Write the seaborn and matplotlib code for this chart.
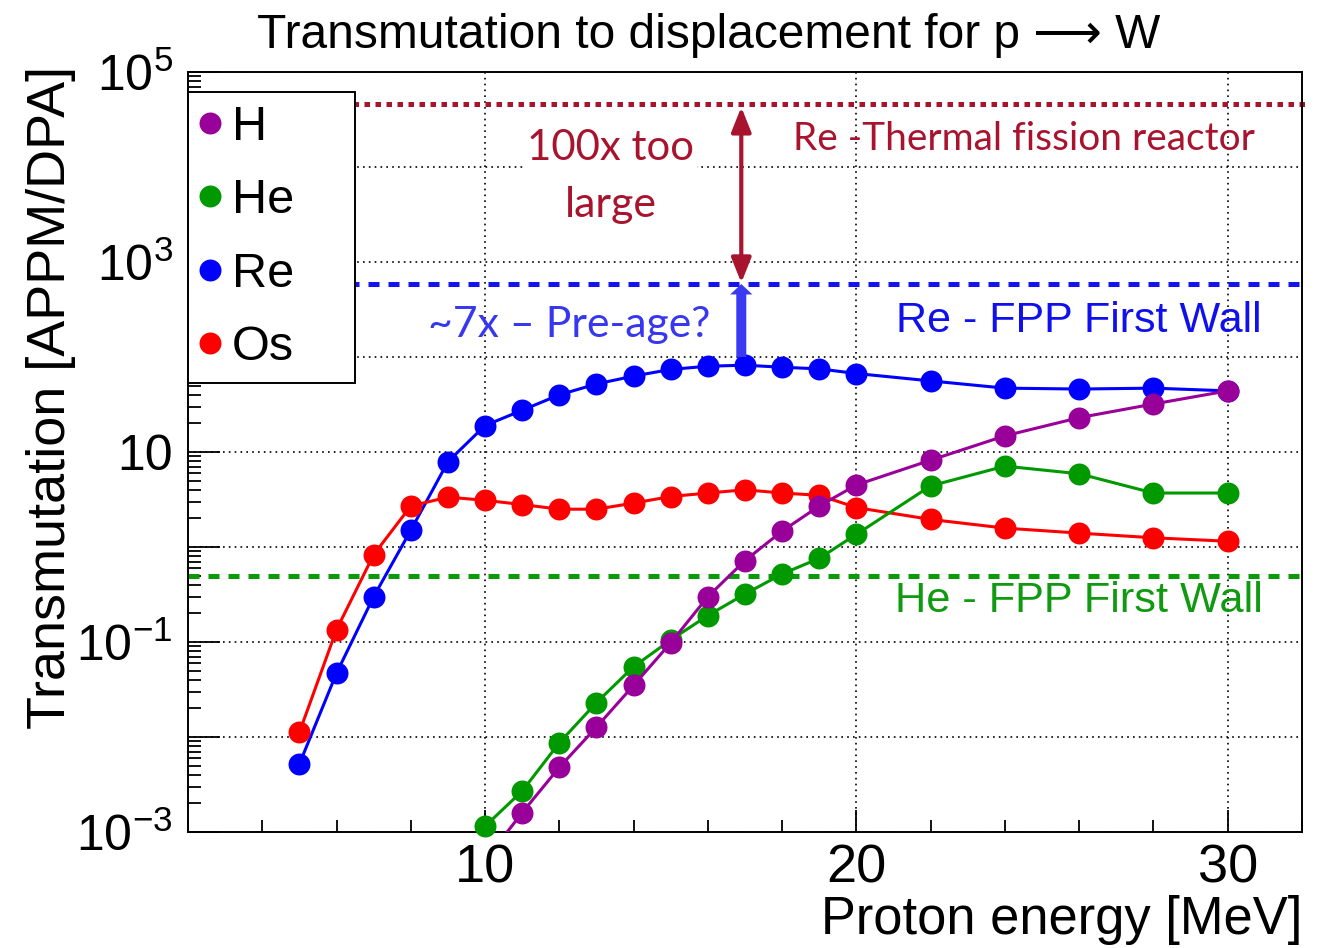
import numpy as np
import pandas as pd
import matplotlib
matplotlib.use("Agg")
import matplotlib.pyplot as plt
import matplotlib.ticker as mticker
import seaborn as sns

# ---------------- data ----------------
energy_low = [5, 6, 7, 8, 9, 10, 11, 12, 13, 14, 15, 16, 17, 18, 19, 20, 22, 24, 26, 28, 30]
re_values = [0.0052, 0.047, 0.30, 1.5, 7.9, 19, 27.5, 40, 52, 63, 74, 80, 82, 78, 75, 67, 56, 47, 46, 47, 44]
os_values = [0.0112, 0.135, 0.83, 2.7, 3.35, 3.1, 2.8, 2.5, 2.5, 2.9, 3.4, 3.7, 4.0, 3.7, 3.5, 2.6,
             1.95, 1.58, 1.4, 1.25, 1.15]
energy_high = [10, 11, 12, 13, 14, 15, 16, 17, 18, 19, 20, 22, 24, 26, 28, 30]
h_values = [0.0005, 0.0016, 0.0048, 0.0127, 0.035, 0.098, 0.30, 0.72, 1.47, 2.7, 4.5, 8.2, 14.8, 23, 32, 44]
he_values = [0.00115, 0.0027, 0.0087, 0.023, 0.055, 0.105, 0.19, 0.32, 0.52, 0.76, 1.36, 4.4, 7.1, 5.9, 3.7, 3.7]

legend_order = ["H", "He", "Re", "Os"]
draw_order = ["Re", "Os", "He", "H"]

thermal_fission_re = 4.6e4     # Re - thermal fission reactor
fpp_first_wall_re = 586        # Re - FPP first wall
fpp_first_wall_he = 0.5        # He - FPP first wall
arrow_energy = 16.9
arrow_base = 100

title_text = "Transmutation to displacement for p \u27F6 W"
xlabel_text = "Proton energy [MeV]"
ylabel_text = "Transmutation [APPM/DPA]"

colors = {"H": "#990099", "He": "#009900", "Re": "#0000FF", "Os": "#FF0000"}
dark_red = "#A8142E"
text_blue = "#3737F0"
arrow_blue = "#3A3AF2"
fpp_blue = "#1010EC"
fpp_green = "#109A10"

frames = []
for name, e, v in [("Re", energy_low, re_values), ("Os", energy_low, os_values),
                   ("He", energy_high, he_values), ("H", energy_high, h_values)]:
    frames.append(pd.DataFrame({"energy": e, "value": v, "element": name}))
df = pd.concat(frames, ignore_index=True)

# ---------------- style ----------------
sns.set_theme(style="white", rc={
    "axes.edgecolor": "black", "axes.linewidth": 1.4,
    "xtick.color": "black", "ytick.color": "black",
    "xtick.bottom": True, "ytick.left": True,
    "text.color": "black", "axes.labelcolor": "black",
})
plt.rcParams["font.family"] = ["Liberation Sans", "DejaVu Sans"]
plt.rcParams["mathtext.fontset"] = "custom"
plt.rcParams["mathtext.rm"] = "Liberation Sans"
plt.rcParams["mathtext.it"] = "Liberation Sans:italic"
plt.rcParams["mathtext.bf"] = "Liberation Sans:bold"
plt.rcParams["mathtext.default"] = "regular"

W, H = 1321, 948
fig = plt.figure(figsize=(W / 100, H / 100), dpi=100)
ax = fig.add_axes([188 / W, 1 - 832 / H, 1114 / W, 760 / H])
ax.set_yscale("log")
YMIN, YMAX = 1e-3, 1e5
ax.set_xlim(2, 32)
ax.set_ylim(YMIN, YMAX)

for i, name in enumerate(draw_order):
    sub = df[df["element"] == name]
    sns.lineplot(data=sub, x="energy", y="value", color=colors[name], linewidth=2.2,
                 ax=ax, legend=False, zorder=3 + 2 * i, estimator=None, sort=False)
    shown = sub[sub["value"] >= YMIN]
    sns.scatterplot(data=shown, x="energy", y="value", color=colors[name], s=250,
                    linewidth=0, ax=ax, zorder=4 + 2 * i, clip_on=False, label=name, legend=False)

# reference lines
ax.axhline(thermal_fission_re, xmin=0, xmax=1.007, color=dark_red, lw=3.6,
           linestyle=(0, (1.1, 1.1)), zorder=2, clip_on=False)
ax.axhline(fpp_first_wall_re, color="#1414F0", lw=3.6, linestyle=(0, (2.2, 1.8)), zorder=2)
ax.axhline(fpp_first_wall_he, color="#0A9A0A", lw=3.6, linestyle=(0, (2.2, 1.8)), zorder=2)

# arrows
ax.annotate("", xy=(arrow_energy, fpp_first_wall_re), xytext=(arrow_energy, arrow_base),
            arrowprops=dict(arrowstyle="simple,head_length=0.75,head_width=1.6,tail_width=0.72",
                            mutation_scale=10, color=arrow_blue, lw=0, shrinkA=0, shrinkB=0),
            zorder=14)
ax.annotate("", xy=(arrow_energy, thermal_fission_re * 0.93), xytext=(arrow_energy, fpp_first_wall_re * 1.03),
            arrowprops=dict(arrowstyle="<|-|>,head_length=1.5,head_width=0.6",
                            mutation_scale=10, color=dark_red, lw=3, shrinkA=0, shrinkB=0),
            zorder=14)

# ticks
ax.xaxis.set_major_locator(mticker.MultipleLocator(10))
ax.xaxis.set_minor_locator(mticker.MultipleLocator(2))
ax.yaxis.set_major_locator(mticker.LogLocator(base=10, numticks=30))
ax.yaxis.set_minor_locator(mticker.LogLocator(base=10, subs=np.arange(2, 10), numticks=300))
ax.yaxis.set_minor_formatter(mticker.NullFormatter())


def log_fmt(v, pos):
    e = int(round(np.log10(v)))
    if e % 2 == 0:
        return ""
    if e == 1:
        return "10"
    return r"$10^{%d}$" % e


ax.yaxis.set_major_formatter(mticker.FuncFormatter(log_fmt))
ax.tick_params(axis="x", which="major", direction="in", length=16, width=1.3, labelsize=39, pad=8,
               top=False, bottom=True)
ax.tick_params(axis="x", which="minor", direction="in", length=8.6, width=1.3, top=False, bottom=True)
ax.tick_params(axis="y", which="major", direction="in", length=23, width=1.3, labelsize=36, pad=11,
               right=False, left=True)
ax.tick_params(axis="y", which="minor", direction="in", length=9.4, width=1.3, right=False, left=True)

ax.set_axisbelow(True)
ax.grid(True, which="major", color="black", linestyle=(0, (1, 2.5)), linewidth=1.2)
for s in ax.spines.values():
    s.set_linewidth(1.4)
    s.set_color("black")

# labels
ax.set_xlabel(xlabel_text, fontsize=38, ha="right")
ax.xaxis.set_label_coords(1.0, (832 - 895) / 760)
ax.set_ylabel(ylabel_text, fontsize=38.5)
ax.yaxis.set_label_coords((76 - 188) / 1114, (832 - 397.5) / 760)
title = fig.text(709 / W, 1 - 48 / H, title_text, ha="center", va="baseline", fontsize=35)

# legend
handles, labels = ax.get_legend_handles_labels()
hmap = dict(zip(labels, handles))
leg = ax.legend([hmap[n] for n in legend_order], legend_order, loc="upper left",
                bbox_to_anchor=(0, (832 - 378) / 760, (355 - 188) / 1114, (378 - 92) / 760),
                mode="expand", borderaxespad=0, fontsize=35, frameon=True, fancybox=False,
                framealpha=1, edgecolor="black", borderpad=0.26, handlelength=0.4,
                handletextpad=0.25, labelspacing=0.585, scatteryoffsets=[0.5])
leg.get_frame().set_linewidth(1.4)
leg.set_zorder(20)

# annotation texts
calib = ["Lato", "DejaVu Sans"]
t_thermal = ax.text(18.29, 15100, "Re -Thermal fission reactor", color=dark_red, fontsize=28,
                    family=calib, ha="left", va="baseline", zorder=15)
t_100 = ax.text(13.39, 11850, "100x too", color=dark_red, fontsize=30, family=calib, ha="center",
                va="baseline", zorder=15,
                bbox=dict(facecolor="white", edgecolor="none", pad=2))
t_large = ax.text(13.39, 2977, "large", color=dark_red, fontsize=30, family=calib, ha="center",
                  va="baseline", zorder=15)
t_7x = ax.text(8.46, 162.5, "~7x \u2013 Pre-age?", color=text_blue, fontsize=28, family=calib,
               ha="left", va="baseline", zorder=15)
t_refpp = ax.text(30.9, 183, "Re - FPP First Wall", color=fpp_blue, fontsize=31, ha="right",
                  va="baseline", zorder=15)
t_hefpp = ax.text(30.95, 0.207, "He - FPP First Wall", color=fpp_green, fontsize=31, ha="right",
                  va="baseline", zorder=15)

# fit text sizes to the widths measured on the reference
fig.canvas.draw()
renderer = fig.canvas.get_renderer()


def fit(txt, target, vertical=False):
    ext = txt.get_window_extent(renderer)
    cur = ext.height if vertical else ext.width
    if cur > 0:
        txt.set_fontsize(txt.get_fontsize() * target / cur)


fit(t_thermal, 462)
fit(t_100, 167)
fit(t_large, 92)
fit(t_7x, 282)
fit(t_refpp, 366)
fit(t_hefpp, 368)
fit(title, 902)
fit(ax.xaxis.label, 482)
fit(ax.yaxis.label, 665, vertical=True)

fig.savefig("out.png", dpi=100)
